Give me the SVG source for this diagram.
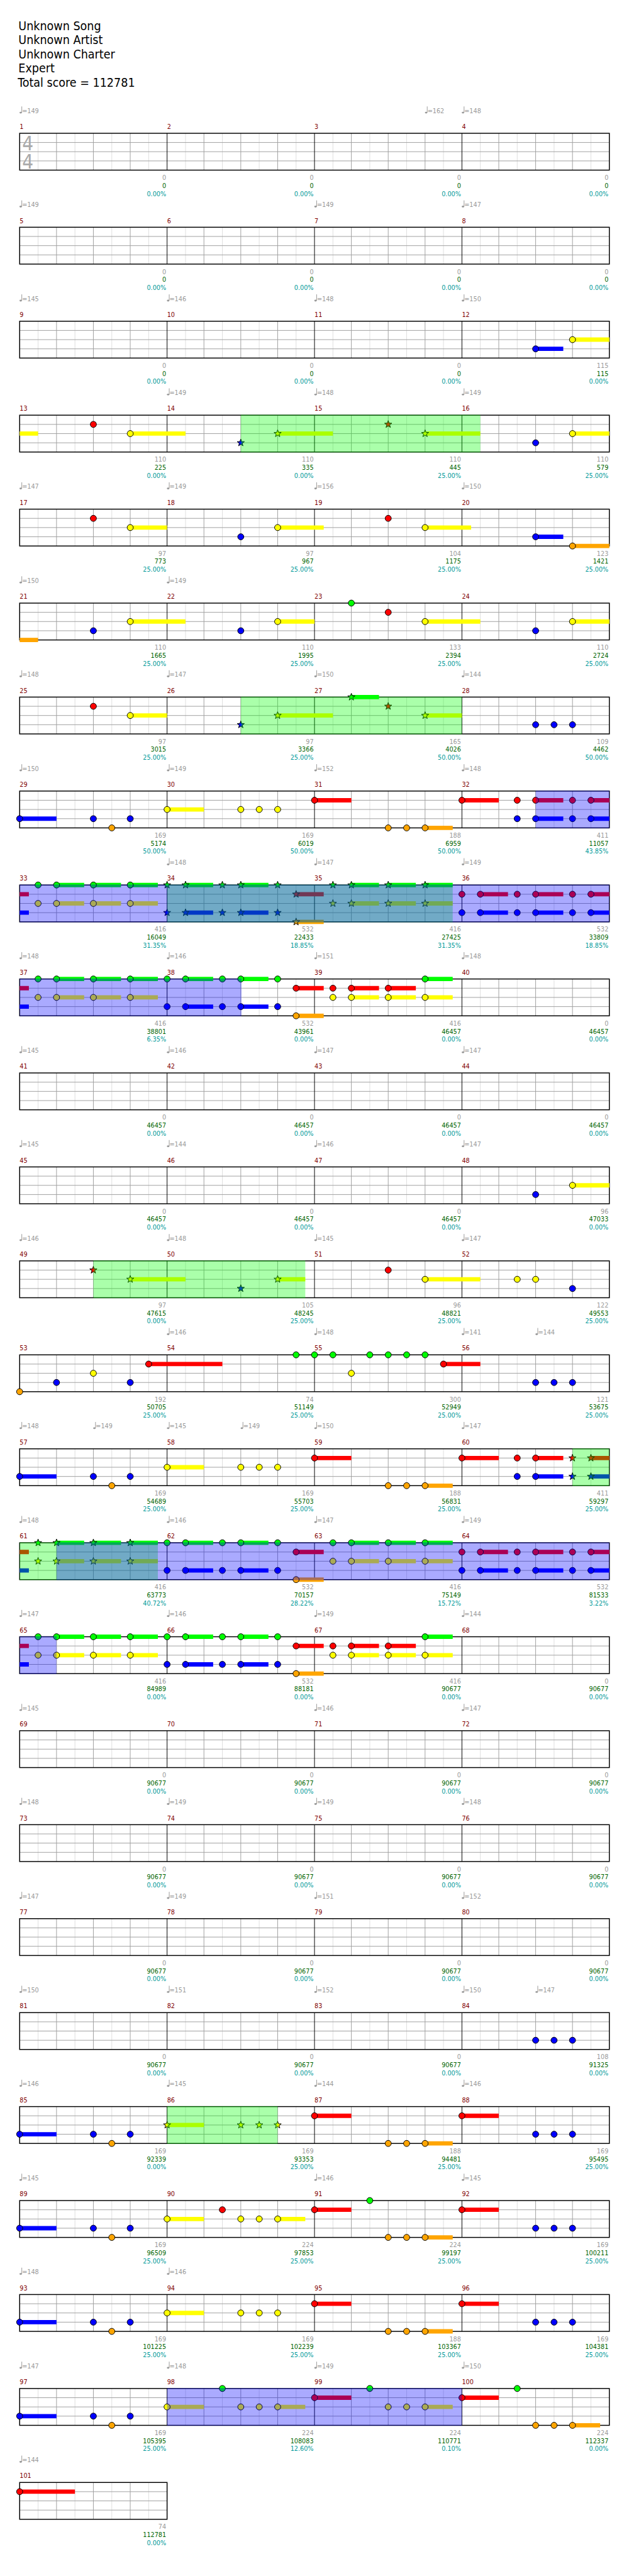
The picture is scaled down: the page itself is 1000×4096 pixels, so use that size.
<svg xmlns="http://www.w3.org/2000/svg" width="1000" height="4096" viewBox="0 0 1000 4096">
<style>
text{font-family:"DejaVu Sans Condensed","DejaVu Sans",sans-serif;font-stretch:condensed;font-size:11px}
.ti{font-size:20px;fill:#000}
.f{font-size:32px;fill:#aaa}
.mn{fill:#800000}
.tp{fill:#999}
.n1{fill:#999;text-anchor:end}
.n2{fill:#006400;text-anchor:end}
.n3{fill:#009999;text-anchor:end}
.sr,.sy,.sb,.sg,.so{fill:none;stroke-width:7}
.sr{stroke:#f00}.sy{stroke:#ff0}.sb{stroke:#00f}.sg{stroke:#0f0}.so{stroke:#ffa500}
circle,use.k{stroke:#000;stroke-width:1}
.r{fill:#f00}.y{fill:#ff0}.b{fill:#00f}.g{fill:#0f0}.o{fill:#ffa500}
.ps{fill:#0f0;fill-opacity:.333}
.pb{fill:#00f;fill-opacity:.333}
</style>
<defs>
<path id="st" d="M0-6.2L1.47-2.02 5.9-1.92 2.38.77 3.64 5.02 0 2.5-3.64 5.02-2.38.77-5.9-1.92-1.47-2.02Z"/>
<g id="q"><ellipse cx="1.7" cy="-0.6" rx="2" ry="1.5" fill="#999"/><path d="M3.5-.8V-10.7" stroke="#999" stroke-width="1" fill="none"/></g>
<g id="grid">
<path stroke="#dedede" stroke-width="1" d="M62 0V60M122 0V60M182 0V60M242 0V60M302 0V60M362 0V60M422 0V60M482 0V60M542 0V60M602 0V60M662 0V60M722 0V60M782 0V60M842 0V60M902 0V60M962 0V60"/>
<path stroke="#a0a0a0" stroke-width="1" d="M92 0V60M152 0V60M212 0V60M332 0V60M392 0V60M452 0V60M572 0V60M632 0V60M692 0V60M812 0V60M872 0V60M932 0V60M32 15H992M32 30H992M32 45H992"/>
<path stroke="#000" stroke-width="1" d="M272 0V60M512 0V60M752 0V60"/>
<rect x="32" y="0" width="960" height="60" fill="none" stroke="#000" stroke-width="1.5"/>
</g>
<g id="grid1">
<path stroke="#dedede" stroke-width="1" d="M62 0V60M122 0V60M182 0V60M242 0V60"/>
<path stroke="#a0a0a0" stroke-width="1" d="M92 0V60M152 0V60M212 0V60M32 15H272M32 30H272M32 45H272"/>
<rect x="32" y="0" width="240" height="60" fill="none" stroke="#000" stroke-width="1.5"/>
</g>
</defs>
<g transform="scale(0.9765625)">
<g id="title">
<text class="ti" x="30" y="49">Unknown Song</text>
<text class="ti" x="30" y="72">Unknown Artist</text>
<text class="ti" x="30" y="95">Unknown Charter</text>
<text class="ti" x="30" y="118">Expert</text>
<text class="ti" x="29" y="141">Total score = 112781</text>
</g>

<g id="row1" transform="translate(0,217)">
<use href="#grid"/>
<text class="f" x="36" y="28">4</text><text class="f" x="36" y="57">4</text>
<text class="mn"><tspan x="32" y="-7">1</tspan><tspan x="272" y="-7">2</tspan><tspan x="512" y="-7">3</tspan><tspan x="752" y="-7">4</tspan></text>
<use href="#q" x="32" y="-33"/><text class="tp" x="36" y="-33">=149</text>
<use href="#q" x="692" y="-33"/><text class="tp" x="696" y="-33">=162</text>
<use href="#q" x="752" y="-33"/><text class="tp" x="756" y="-33">=148</text>
<text class="n1"><tspan x="270.5" y="76">0</tspan><tspan x="510.5" y="76">0</tspan><tspan x="750.5" y="76">0</tspan><tspan x="990.5" y="76">0</tspan></text>
<text class="n2"><tspan x="270.5" y="89">0</tspan><tspan x="510.5" y="89">0</tspan><tspan x="750.5" y="89">0</tspan><tspan x="990.5" y="89">0</tspan></text>
<text class="n3"><tspan x="270.5" y="102">0.00%</tspan><tspan x="510.5" y="102">0.00%</tspan><tspan x="750.5" y="102">0.00%</tspan><tspan x="990.5" y="102">0.00%</tspan></text>
</g>

<g id="row2" transform="translate(0,370)">
<use href="#grid"/>
<text class="mn"><tspan x="32" y="-7">5</tspan><tspan x="272" y="-7">6</tspan><tspan x="512" y="-7">7</tspan><tspan x="752" y="-7">8</tspan></text>
<use href="#q" x="32" y="-33"/><text class="tp" x="36" y="-33">=149</text>
<use href="#q" x="512" y="-33"/><text class="tp" x="516" y="-33">=149</text>
<use href="#q" x="752" y="-33"/><text class="tp" x="756" y="-33">=147</text>
<text class="n1"><tspan x="270.5" y="76">0</tspan><tspan x="510.5" y="76">0</tspan><tspan x="750.5" y="76">0</tspan><tspan x="990.5" y="76">0</tspan></text>
<text class="n2"><tspan x="270.5" y="89">0</tspan><tspan x="510.5" y="89">0</tspan><tspan x="750.5" y="89">0</tspan><tspan x="990.5" y="89">0</tspan></text>
<text class="n3"><tspan x="270.5" y="102">0.00%</tspan><tspan x="510.5" y="102">0.00%</tspan><tspan x="750.5" y="102">0.00%</tspan><tspan x="990.5" y="102">0.00%</tspan></text>
</g>

<g id="row3" transform="translate(0,523)">
<use href="#grid"/>
<text class="mn"><tspan x="32" y="-7">9</tspan><tspan x="272" y="-7">10</tspan><tspan x="512" y="-7">11</tspan><tspan x="752" y="-7">12</tspan></text>
<use href="#q" x="32" y="-33"/><text class="tp" x="36" y="-33">=145</text>
<use href="#q" x="272" y="-33"/><text class="tp" x="276" y="-33">=146</text>
<use href="#q" x="512" y="-33"/><text class="tp" x="516" y="-33">=148</text>
<use href="#q" x="752" y="-33"/><text class="tp" x="756" y="-33">=150</text>
<path class="sb" d="M872 45H917"/><path class="sy" d="M932 30H992"/>
<circle class="b" cx="872" cy="45" r="5"/><circle class="y" cx="932" cy="30" r="5"/>
<text class="n1"><tspan x="270.5" y="76">0</tspan><tspan x="510.5" y="76">0</tspan><tspan x="750.5" y="76">0</tspan><tspan x="990.5" y="76">115</tspan></text>
<text class="n2"><tspan x="270.5" y="89">0</tspan><tspan x="510.5" y="89">0</tspan><tspan x="750.5" y="89">0</tspan><tspan x="990.5" y="89">115</tspan></text>
<text class="n3"><tspan x="270.5" y="102">0.00%</tspan><tspan x="510.5" y="102">0.00%</tspan><tspan x="750.5" y="102">0.00%</tspan><tspan x="990.5" y="102">0.00%</tspan></text>
</g>

<g id="row4" transform="translate(0,676)">
<use href="#grid"/>
<text class="mn"><tspan x="32" y="-7">13</tspan><tspan x="272" y="-7">14</tspan><tspan x="512" y="-7">15</tspan><tspan x="752" y="-7">16</tspan></text>
<use href="#q" x="272" y="-33"/><text class="tp" x="276" y="-33">=149</text>
<use href="#q" x="512" y="-33"/><text class="tp" x="516" y="-33">=148</text>
<use href="#q" x="752" y="-33"/><text class="tp" x="756" y="-33">=149</text>
<path class="sy" d="M32 30H62M212 30H302M452 30H542M692 30H782M932 30H992"/>
<circle class="r" cx="152" cy="15" r="5"/><circle class="y" cx="212" cy="30" r="5"/>
<use class="k b" href="#st" x="392" y="45"/><use class="k y" href="#st" x="452" y="30"/><use class="k r" href="#st" x="632" y="15"/><use class="k y" href="#st" x="692" y="30"/>
<circle class="b" cx="872" cy="45" r="5"/><circle class="y" cx="932" cy="30" r="5"/>
<rect class="ps" x="392" y="-.75" width="390" height="61.5"/>
<text class="n1"><tspan x="270.5" y="76">110</tspan><tspan x="510.5" y="76">110</tspan><tspan x="750.5" y="76">110</tspan><tspan x="990.5" y="76">110</tspan></text>
<text class="n2"><tspan x="270.5" y="89">225</tspan><tspan x="510.5" y="89">335</tspan><tspan x="750.5" y="89">445</tspan><tspan x="990.5" y="89">579</tspan></text>
<text class="n3"><tspan x="270.5" y="102">0.00%</tspan><tspan x="510.5" y="102">0.00%</tspan><tspan x="750.5" y="102">25.00%</tspan><tspan x="990.5" y="102">25.00%</tspan></text>
</g>

<g id="row5" transform="translate(0,829)">
<use href="#grid"/>
<text class="mn"><tspan x="32" y="-7">17</tspan><tspan x="272" y="-7">18</tspan><tspan x="512" y="-7">19</tspan><tspan x="752" y="-7">20</tspan></text>
<use href="#q" x="32" y="-33"/><text class="tp" x="36" y="-33">=147</text>
<use href="#q" x="272" y="-33"/><text class="tp" x="276" y="-33">=149</text>
<use href="#q" x="512" y="-33"/><text class="tp" x="516" y="-33">=156</text>
<use href="#q" x="752" y="-33"/><text class="tp" x="756" y="-33">=150</text>
<path class="sy" d="M212 30H272M452 30H527M692 30H767"/><path class="sb" d="M872 45H917"/><path class="so" d="M932 60H992"/>
<circle class="r" cx="152" cy="15" r="5"/><circle class="y" cx="212" cy="30" r="5"/><circle class="b" cx="392" cy="45" r="5"/><circle class="y" cx="452" cy="30" r="5"/><circle class="r" cx="632" cy="15" r="5"/><circle class="y" cx="692" cy="30" r="5"/><circle class="b" cx="872" cy="45" r="5"/><circle class="o" cx="932" cy="60" r="5"/>
<text class="n1"><tspan x="270.5" y="76">97</tspan><tspan x="510.5" y="76">97</tspan><tspan x="750.5" y="76">104</tspan><tspan x="990.5" y="76">123</tspan></text>
<text class="n2"><tspan x="270.5" y="89">773</tspan><tspan x="510.5" y="89">967</tspan><tspan x="750.5" y="89">1175</tspan><tspan x="990.5" y="89">1421</tspan></text>
<text class="n3"><tspan x="270.5" y="102">25.00%</tspan><tspan x="510.5" y="102">25.00%</tspan><tspan x="750.5" y="102">25.00%</tspan><tspan x="990.5" y="102">25.00%</tspan></text>
</g>

<g id="row6" transform="translate(0,982)">
<use href="#grid"/>
<text class="mn"><tspan x="32" y="-7">21</tspan><tspan x="272" y="-7">22</tspan><tspan x="512" y="-7">23</tspan><tspan x="752" y="-7">24</tspan></text>
<use href="#q" x="32" y="-33"/><text class="tp" x="36" y="-33">=150</text>
<use href="#q" x="272" y="-33"/><text class="tp" x="276" y="-33">=149</text>
<path class="so" d="M32 60H62"/><path class="sy" d="M212 30H302M452 30H512M692 30H782M932 30H992"/>
<circle class="b" cx="152" cy="45" r="5"/><circle class="y" cx="212" cy="30" r="5"/><circle class="b" cx="392" cy="45" r="5"/><circle class="y" cx="452" cy="30" r="5"/><circle class="g" cx="572" cy="0" r="5"/><circle class="r" cx="632" cy="15" r="5"/><circle class="y" cx="692" cy="30" r="5"/><circle class="b" cx="872" cy="45" r="5"/><circle class="y" cx="932" cy="30" r="5"/>
<text class="n1"><tspan x="270.5" y="76">110</tspan><tspan x="510.5" y="76">110</tspan><tspan x="750.5" y="76">133</tspan><tspan x="990.5" y="76">110</tspan></text>
<text class="n2"><tspan x="270.5" y="89">1665</tspan><tspan x="510.5" y="89">1995</tspan><tspan x="750.5" y="89">2394</tspan><tspan x="990.5" y="89">2724</tspan></text>
<text class="n3"><tspan x="270.5" y="102">25.00%</tspan><tspan x="510.5" y="102">25.00%</tspan><tspan x="750.5" y="102">25.00%</tspan><tspan x="990.5" y="102">25.00%</tspan></text>
</g>

<g id="row7" transform="translate(0,1135)">
<use href="#grid"/>
<text class="mn"><tspan x="32" y="-7">25</tspan><tspan x="272" y="-7">26</tspan><tspan x="512" y="-7">27</tspan><tspan x="752" y="-7">28</tspan></text>
<use href="#q" x="32" y="-33"/><text class="tp" x="36" y="-33">=148</text>
<use href="#q" x="272" y="-33"/><text class="tp" x="276" y="-33">=147</text>
<use href="#q" x="512" y="-33"/><text class="tp" x="516" y="-33">=150</text>
<use href="#q" x="752" y="-33"/><text class="tp" x="756" y="-33">=144</text>
<path class="sy" d="M212 30H272M452 30H542M692 30H752"/><path class="sg" d="M572 0H617"/>
<circle class="r" cx="152" cy="15" r="5"/><circle class="y" cx="212" cy="30" r="5"/>
<use class="k b" href="#st" x="392" y="45"/><use class="k y" href="#st" x="452" y="30"/><use class="k g" href="#st" x="572" y="0"/><use class="k r" href="#st" x="632" y="15"/><use class="k y" href="#st" x="692" y="30"/>
<circle class="b" cx="872" cy="45" r="5"/><circle class="b" cx="902" cy="45" r="5"/><circle class="b" cx="932" cy="45" r="5"/>
<rect class="ps" x="392" y="-.75" width="360" height="61.5"/>
<text class="n1"><tspan x="270.5" y="76">97</tspan><tspan x="510.5" y="76">97</tspan><tspan x="750.5" y="76">165</tspan><tspan x="990.5" y="76">109</tspan></text>
<text class="n2"><tspan x="270.5" y="89">3015</tspan><tspan x="510.5" y="89">3366</tspan><tspan x="750.5" y="89">4026</tspan><tspan x="990.5" y="89">4462</tspan></text>
<text class="n3"><tspan x="270.5" y="102">25.00%</tspan><tspan x="510.5" y="102">25.00%</tspan><tspan x="750.5" y="102">50.00%</tspan><tspan x="990.5" y="102">50.00%</tspan></text>
</g>

<g id="row8" transform="translate(0,1288)">
<use href="#grid"/>
<text class="mn"><tspan x="32" y="-7">29</tspan><tspan x="272" y="-7">30</tspan><tspan x="512" y="-7">31</tspan><tspan x="752" y="-7">32</tspan></text>
<use href="#q" x="32" y="-33"/><text class="tp" x="36" y="-33">=150</text>
<use href="#q" x="272" y="-33"/><text class="tp" x="276" y="-33">=149</text>
<use href="#q" x="512" y="-33"/><text class="tp" x="516" y="-33">=152</text>
<use href="#q" x="752" y="-33"/><text class="tp" x="756" y="-33">=148</text>
<path class="sb" d="M32 45H92M872 45H917M962 45H992"/><path class="sy" d="M272 30H332"/><path class="sr" d="M512 15H572M752 15H812M872 15H917M962 15H992"/><path class="so" d="M692 60H737"/>
<circle class="b" cx="32" cy="45" r="5"/><circle class="b" cx="152" cy="45" r="5"/><circle class="o" cx="182" cy="60" r="5"/><circle class="b" cx="212" cy="45" r="5"/><circle class="y" cx="272" cy="30" r="5"/><circle class="y" cx="392" cy="30" r="5"/><circle class="y" cx="422" cy="30" r="5"/><circle class="y" cx="452" cy="30" r="5"/><circle class="r" cx="512" cy="15" r="5"/><circle class="o" cx="632" cy="60" r="5"/><circle class="o" cx="662" cy="60" r="5"/><circle class="o" cx="692" cy="60" r="5"/><circle class="r" cx="752" cy="15" r="5"/><circle class="r" cx="842" cy="15" r="5"/><circle class="b" cx="842" cy="45" r="5"/><circle class="r" cx="872" cy="15" r="5"/><circle class="b" cx="872" cy="45" r="5"/><circle class="r" cx="932" cy="15" r="5"/><circle class="b" cx="932" cy="45" r="5"/><circle class="r" cx="962" cy="15" r="5"/><circle class="b" cx="962" cy="45" r="5"/>
<rect class="pb" x="872" y="-.75" width="120" height="61.5"/>
<text class="n1"><tspan x="270.5" y="76">169</tspan><tspan x="510.5" y="76">169</tspan><tspan x="750.5" y="76">188</tspan><tspan x="990.5" y="76">411</tspan></text>
<text class="n2"><tspan x="270.5" y="89">5174</tspan><tspan x="510.5" y="89">6019</tspan><tspan x="750.5" y="89">6959</tspan><tspan x="990.5" y="89">11057</tspan></text>
<text class="n3"><tspan x="270.5" y="102">50.00%</tspan><tspan x="510.5" y="102">50.00%</tspan><tspan x="750.5" y="102">50.00%</tspan><tspan x="990.5" y="102">43.85%</tspan></text>
</g>

<g id="row9" transform="translate(0,1441)">
<use href="#grid"/>
<text class="mn"><tspan x="32" y="-7">33</tspan><tspan x="272" y="-7">34</tspan><tspan x="512" y="-7">35</tspan><tspan x="752" y="-7">36</tspan></text>
<use href="#q" x="272" y="-33"/><text class="tp" x="276" y="-33">=148</text>
<use href="#q" x="512" y="-33"/><text class="tp" x="516" y="-33">=147</text>
<use href="#q" x="752" y="-33"/><text class="tp" x="756" y="-33">=149</text>
<path class="sr" d="M32 15H47M482 15H527M782 15H827M872 15H917M962 15H992"/>
<path class="sb" d="M32 45H47M302 45H347M392 45H437M782 45H827M872 45H917M962 45H992"/>
<path class="sg" d="M92 0H137M152 0H197M212 0H257M302 0H347M392 0H437M572 0H617M632 0H677M692 0H737"/>
<path class="sy" d="M92 30H137M152 30H197M212 30H257M572 30H617M632 30H677M692 30H737"/>
<path class="so" d="M482 60H527"/>
<circle class="g" cx="62" cy="0" r="5"/><circle class="y" cx="62" cy="30" r="5"/><circle class="g" cx="92" cy="0" r="5"/><circle class="y" cx="92" cy="30" r="5"/><circle class="g" cx="152" cy="0" r="5"/><circle class="y" cx="152" cy="30" r="5"/><circle class="g" cx="212" cy="0" r="5"/><circle class="y" cx="212" cy="30" r="5"/>
<use class="k g" href="#st" x="272" y="0"/><use class="k b" href="#st" x="272" y="45"/><use class="k g" href="#st" x="302" y="0"/><use class="k b" href="#st" x="302" y="45"/><use class="k g" href="#st" x="362" y="0"/><use class="k b" href="#st" x="362" y="45"/><use class="k g" href="#st" x="392" y="0"/><use class="k b" href="#st" x="392" y="45"/><use class="k g" href="#st" x="452" y="0"/><use class="k b" href="#st" x="452" y="45"/>
<use class="k r" href="#st" x="482" y="15"/><use class="k o" href="#st" x="482" y="60"/>
<use class="k g" href="#st" x="542" y="0"/><use class="k y" href="#st" x="542" y="30"/><use class="k g" href="#st" x="572" y="0"/><use class="k y" href="#st" x="572" y="30"/><use class="k g" href="#st" x="632" y="0"/><use class="k y" href="#st" x="632" y="30"/><use class="k g" href="#st" x="692" y="0"/><use class="k y" href="#st" x="692" y="30"/>
<circle class="r" cx="752" cy="15" r="5"/><circle class="b" cx="752" cy="45" r="5"/><circle class="r" cx="782" cy="15" r="5"/><circle class="b" cx="782" cy="45" r="5"/><circle class="r" cx="842" cy="15" r="5"/><circle class="b" cx="842" cy="45" r="5"/><circle class="r" cx="872" cy="15" r="5"/><circle class="b" cx="872" cy="45" r="5"/><circle class="r" cx="932" cy="15" r="5"/><circle class="b" cx="932" cy="45" r="5"/><circle class="r" cx="962" cy="15" r="5"/><circle class="b" cx="962" cy="45" r="5"/>
<rect class="ps" x="272" y="-.75" width="465" height="61.5"/>
<rect class="pb" x="32" y="-.75" width="960" height="61.5"/>
<text class="n1"><tspan x="270.5" y="76">416</tspan><tspan x="510.5" y="76">532</tspan><tspan x="750.5" y="76">416</tspan><tspan x="990.5" y="76">532</tspan></text>
<text class="n2"><tspan x="270.5" y="89">16049</tspan><tspan x="510.5" y="89">22433</tspan><tspan x="750.5" y="89">27425</tspan><tspan x="990.5" y="89">33809</tspan></text>
<text class="n3"><tspan x="270.5" y="102">31.35%</tspan><tspan x="510.5" y="102">18.85%</tspan><tspan x="750.5" y="102">31.35%</tspan><tspan x="990.5" y="102">18.85%</tspan></text>
</g>

<g id="row10" transform="translate(0,1594)">
<use href="#grid"/>
<text class="mn"><tspan x="32" y="-7">37</tspan><tspan x="272" y="-7">38</tspan><tspan x="512" y="-7">39</tspan><tspan x="752" y="-7">40</tspan></text>
<use href="#q" x="32" y="-33"/><text class="tp" x="36" y="-33">=148</text>
<use href="#q" x="272" y="-33"/><text class="tp" x="276" y="-33">=146</text>
<use href="#q" x="512" y="-33"/><text class="tp" x="516" y="-33">=151</text>
<use href="#q" x="752" y="-33"/><text class="tp" x="756" y="-33">=148</text>
<path class="sr" d="M32 15H47M482 15H527M572 15H617M632 15H677"/>
<path class="sb" d="M32 45H47M302 45H347M392 45H437"/>
<path class="sg" d="M92 0H137M152 0H197M212 0H257M302 0H347M392 0H437M692 0H737"/>
<path class="sy" d="M92 30H137M152 30H197M212 30H257M572 30H617M632 30H677M692 30H737"/>
<path class="so" d="M482 60H527"/>
<circle class="g" cx="62" cy="0" r="5"/><circle class="y" cx="62" cy="30" r="5"/><circle class="g" cx="92" cy="0" r="5"/><circle class="y" cx="92" cy="30" r="5"/><circle class="g" cx="152" cy="0" r="5"/><circle class="y" cx="152" cy="30" r="5"/><circle class="g" cx="212" cy="0" r="5"/><circle class="y" cx="212" cy="30" r="5"/>
<circle class="g" cx="272" cy="0" r="5"/><circle class="b" cx="272" cy="45" r="5"/><circle class="g" cx="302" cy="0" r="5"/><circle class="b" cx="302" cy="45" r="5"/><circle class="g" cx="362" cy="0" r="5"/><circle class="b" cx="362" cy="45" r="5"/><circle class="g" cx="392" cy="0" r="5"/><circle class="b" cx="392" cy="45" r="5"/><circle class="g" cx="452" cy="0" r="5"/><circle class="b" cx="452" cy="45" r="5"/>
<circle class="r" cx="482" cy="15" r="5"/><circle class="o" cx="482" cy="60" r="5"/>
<circle class="r" cx="542" cy="15" r="5"/><circle class="y" cx="542" cy="30" r="5"/><circle class="r" cx="572" cy="15" r="5"/><circle class="y" cx="572" cy="30" r="5"/><circle class="r" cx="632" cy="15" r="5"/><circle class="y" cx="632" cy="30" r="5"/><circle class="g" cx="692" cy="0" r="5"/><circle class="y" cx="692" cy="30" r="5"/>
<rect class="pb" x="32" y="-.75" width="361" height="61.5"/>
<text class="n1"><tspan x="270.5" y="76">416</tspan><tspan x="510.5" y="76">532</tspan><tspan x="750.5" y="76">416</tspan><tspan x="990.5" y="76">0</tspan></text>
<text class="n2"><tspan x="270.5" y="89">38801</tspan><tspan x="510.5" y="89">43961</tspan><tspan x="750.5" y="89">46457</tspan><tspan x="990.5" y="89">46457</tspan></text>
<text class="n3"><tspan x="270.5" y="102">6.35%</tspan><tspan x="510.5" y="102">0.00%</tspan><tspan x="750.5" y="102">0.00%</tspan><tspan x="990.5" y="102">0.00%</tspan></text>
</g>

<g id="row11" transform="translate(0,1747)">
<use href="#grid"/>
<text class="mn"><tspan x="32" y="-7">41</tspan><tspan x="272" y="-7">42</tspan><tspan x="512" y="-7">43</tspan><tspan x="752" y="-7">44</tspan></text>
<use href="#q" x="32" y="-33"/><text class="tp" x="36" y="-33">=145</text>
<use href="#q" x="272" y="-33"/><text class="tp" x="276" y="-33">=146</text>
<use href="#q" x="512" y="-33"/><text class="tp" x="516" y="-33">=147</text>
<use href="#q" x="752" y="-33"/><text class="tp" x="756" y="-33">=147</text>
<text class="n1"><tspan x="270.5" y="76">0</tspan><tspan x="510.5" y="76">0</tspan><tspan x="750.5" y="76">0</tspan><tspan x="990.5" y="76">0</tspan></text>
<text class="n2"><tspan x="270.5" y="89">46457</tspan><tspan x="510.5" y="89">46457</tspan><tspan x="750.5" y="89">46457</tspan><tspan x="990.5" y="89">46457</tspan></text>
<text class="n3"><tspan x="270.5" y="102">0.00%</tspan><tspan x="510.5" y="102">0.00%</tspan><tspan x="750.5" y="102">0.00%</tspan><tspan x="990.5" y="102">0.00%</tspan></text>
</g>

<g id="row12" transform="translate(0,1900)">
<use href="#grid"/>
<text class="mn"><tspan x="32" y="-7">45</tspan><tspan x="272" y="-7">46</tspan><tspan x="512" y="-7">47</tspan><tspan x="752" y="-7">48</tspan></text>
<use href="#q" x="32" y="-33"/><text class="tp" x="36" y="-33">=145</text>
<use href="#q" x="272" y="-33"/><text class="tp" x="276" y="-33">=144</text>
<use href="#q" x="512" y="-33"/><text class="tp" x="516" y="-33">=146</text>
<use href="#q" x="752" y="-33"/><text class="tp" x="756" y="-33">=147</text>
<path class="sy" d="M932 30H992"/>
<circle class="b" cx="872" cy="45" r="5"/><circle class="y" cx="932" cy="30" r="5"/>
<text class="n1"><tspan x="270.5" y="76">0</tspan><tspan x="510.5" y="76">0</tspan><tspan x="750.5" y="76">0</tspan><tspan x="990.5" y="76">96</tspan></text>
<text class="n2"><tspan x="270.5" y="89">46457</tspan><tspan x="510.5" y="89">46457</tspan><tspan x="750.5" y="89">46457</tspan><tspan x="990.5" y="89">47033</tspan></text>
<text class="n3"><tspan x="270.5" y="102">0.00%</tspan><tspan x="510.5" y="102">0.00%</tspan><tspan x="750.5" y="102">0.00%</tspan><tspan x="990.5" y="102">0.00%</tspan></text>
</g>

<g id="row13" transform="translate(0,2053)">
<use href="#grid"/>
<text class="mn"><tspan x="32" y="-7">49</tspan><tspan x="272" y="-7">50</tspan><tspan x="512" y="-7">51</tspan><tspan x="752" y="-7">52</tspan></text>
<use href="#q" x="32" y="-33"/><text class="tp" x="36" y="-33">=146</text>
<use href="#q" x="272" y="-33"/><text class="tp" x="276" y="-33">=148</text>
<use href="#q" x="512" y="-33"/><text class="tp" x="516" y="-33">=145</text>
<use href="#q" x="752" y="-33"/><text class="tp" x="756" y="-33">=147</text>
<path class="sy" d="M212 30H302M452 30H497M692 30H782"/>
<use class="k r" href="#st" x="152" y="15"/><use class="k y" href="#st" x="212" y="30"/><use class="k b" href="#st" x="392" y="45"/><use class="k y" href="#st" x="452" y="30"/>
<circle class="r" cx="632" cy="15" r="5"/><circle class="y" cx="692" cy="30" r="5"/><circle class="y" cx="842" cy="30" r="5"/><circle class="y" cx="872" cy="30" r="5"/><circle class="b" cx="932" cy="45" r="5"/>
<rect class="ps" x="152" y="-.75" width="345" height="61.5"/>
<text class="n1"><tspan x="270.5" y="76">97</tspan><tspan x="510.5" y="76">105</tspan><tspan x="750.5" y="76">96</tspan><tspan x="990.5" y="76">122</tspan></text>
<text class="n2"><tspan x="270.5" y="89">47615</tspan><tspan x="510.5" y="89">48245</tspan><tspan x="750.5" y="89">48821</tspan><tspan x="990.5" y="89">49553</tspan></text>
<text class="n3"><tspan x="270.5" y="102">0.00%</tspan><tspan x="510.5" y="102">25.00%</tspan><tspan x="750.5" y="102">25.00%</tspan><tspan x="990.5" y="102">25.00%</tspan></text>
</g>

<g id="row14" transform="translate(0,2206)">
<use href="#grid"/>
<text class="mn"><tspan x="32" y="-7">53</tspan><tspan x="272" y="-7">54</tspan><tspan x="512" y="-7">55</tspan><tspan x="752" y="-7">56</tspan></text>
<use href="#q" x="272" y="-33"/><text class="tp" x="276" y="-33">=146</text>
<use href="#q" x="512" y="-33"/><text class="tp" x="516" y="-33">=148</text>
<use href="#q" x="752" y="-33"/><text class="tp" x="756" y="-33">=141</text>
<use href="#q" x="872" y="-33"/><text class="tp" x="876" y="-33">=144</text>
<path class="sr" d="M242 15H362M722 15H782"/>
<circle class="o" cx="32" cy="60" r="5"/><circle class="b" cx="92" cy="45" r="5"/><circle class="y" cx="152" cy="30" r="5"/><circle class="b" cx="212" cy="45" r="5"/><circle class="r" cx="242" cy="15" r="5"/><circle class="g" cx="482" cy="0" r="5"/><circle class="g" cx="512" cy="0" r="5"/><circle class="g" cx="542" cy="0" r="5"/><circle class="y" cx="572" cy="30" r="5"/><circle class="g" cx="602" cy="0" r="5"/><circle class="g" cx="632" cy="0" r="5"/><circle class="g" cx="662" cy="0" r="5"/><circle class="g" cx="692" cy="0" r="5"/><circle class="r" cx="722" cy="15" r="5"/><circle class="b" cx="872" cy="45" r="5"/><circle class="b" cx="902" cy="45" r="5"/><circle class="b" cx="932" cy="45" r="5"/>
<text class="n1"><tspan x="270.5" y="76">192</tspan><tspan x="510.5" y="76">74</tspan><tspan x="750.5" y="76">300</tspan><tspan x="990.5" y="76">121</tspan></text>
<text class="n2"><tspan x="270.5" y="89">50705</tspan><tspan x="510.5" y="89">51149</tspan><tspan x="750.5" y="89">52949</tspan><tspan x="990.5" y="89">53675</tspan></text>
<text class="n3"><tspan x="270.5" y="102">25.00%</tspan><tspan x="510.5" y="102">25.00%</tspan><tspan x="750.5" y="102">25.00%</tspan><tspan x="990.5" y="102">25.00%</tspan></text>
</g>

<g id="row15" transform="translate(0,2359)">
<use href="#grid"/>
<text class="mn"><tspan x="32" y="-7">57</tspan><tspan x="272" y="-7">58</tspan><tspan x="512" y="-7">59</tspan><tspan x="752" y="-7">60</tspan></text>
<use href="#q" x="32" y="-33"/><text class="tp" x="36" y="-33">=148</text>
<use href="#q" x="152" y="-33"/><text class="tp" x="156" y="-33">=149</text>
<use href="#q" x="272" y="-33"/><text class="tp" x="276" y="-33">=145</text>
<use href="#q" x="392" y="-33"/><text class="tp" x="396" y="-33">=149</text>
<use href="#q" x="512" y="-33"/><text class="tp" x="516" y="-33">=150</text>
<use href="#q" x="752" y="-33"/><text class="tp" x="756" y="-33">=147</text>
<path class="sb" d="M32 45H92M872 45H917M962 45H992"/><path class="sy" d="M272 30H332"/><path class="sr" d="M512 15H572M752 15H812M872 15H917M962 15H992"/><path class="so" d="M692 60H737"/>
<circle class="b" cx="32" cy="45" r="5"/><circle class="b" cx="152" cy="45" r="5"/><circle class="o" cx="182" cy="60" r="5"/><circle class="b" cx="212" cy="45" r="5"/><circle class="y" cx="272" cy="30" r="5"/><circle class="y" cx="392" cy="30" r="5"/><circle class="y" cx="422" cy="30" r="5"/><circle class="y" cx="452" cy="30" r="5"/><circle class="r" cx="512" cy="15" r="5"/><circle class="o" cx="632" cy="60" r="5"/><circle class="o" cx="662" cy="60" r="5"/><circle class="o" cx="692" cy="60" r="5"/><circle class="r" cx="752" cy="15" r="5"/><circle class="r" cx="842" cy="15" r="5"/><circle class="b" cx="842" cy="45" r="5"/><circle class="r" cx="872" cy="15" r="5"/><circle class="b" cx="872" cy="45" r="5"/>
<use class="k r" href="#st" x="932" y="15"/><use class="k b" href="#st" x="932" y="45"/><use class="k r" href="#st" x="962" y="15"/><use class="k b" href="#st" x="962" y="45"/>
<rect class="ps" x="932" y="-.75" width="60" height="61.5"/>
<text class="n1"><tspan x="270.5" y="76">169</tspan><tspan x="510.5" y="76">169</tspan><tspan x="750.5" y="76">188</tspan><tspan x="990.5" y="76">411</tspan></text>
<text class="n2"><tspan x="270.5" y="89">54689</tspan><tspan x="510.5" y="89">55703</tspan><tspan x="750.5" y="89">56831</tspan><tspan x="990.5" y="89">59297</tspan></text>
<text class="n3"><tspan x="270.5" y="102">25.00%</tspan><tspan x="510.5" y="102">25.00%</tspan><tspan x="750.5" y="102">25.00%</tspan><tspan x="990.5" y="102">25.00%</tspan></text>
</g>

<g id="row16" transform="translate(0,2512)">
<use href="#grid"/>
<text class="mn"><tspan x="32" y="-7">61</tspan><tspan x="272" y="-7">62</tspan><tspan x="512" y="-7">63</tspan><tspan x="752" y="-7">64</tspan></text>
<use href="#q" x="32" y="-33"/><text class="tp" x="36" y="-33">=148</text>
<use href="#q" x="272" y="-33"/><text class="tp" x="276" y="-33">=146</text>
<use href="#q" x="512" y="-33"/><text class="tp" x="516" y="-33">=147</text>
<use href="#q" x="752" y="-33"/><text class="tp" x="756" y="-33">=149</text>
<path class="sr" d="M32 15H47M482 15H527M782 15H827M872 15H917M962 15H992"/>
<path class="sb" d="M32 45H47M302 45H347M392 45H437M782 45H827M872 45H917M962 45H992"/>
<path class="sg" d="M92 0H137M152 0H197M212 0H257M302 0H347M392 0H437M572 0H617M632 0H677M692 0H737"/>
<path class="sy" d="M92 30H137M152 30H197M212 30H257M572 30H617M632 30H677M692 30H737"/>
<path class="so" d="M482 60H527"/>
<use class="k g" href="#st" x="62" y="0"/><use class="k y" href="#st" x="62" y="30"/><use class="k g" href="#st" x="92" y="0"/><use class="k y" href="#st" x="92" y="30"/><use class="k g" href="#st" x="152" y="0"/><use class="k y" href="#st" x="152" y="30"/><use class="k g" href="#st" x="212" y="0"/><use class="k y" href="#st" x="212" y="30"/>
<circle class="g" cx="272" cy="0" r="5"/><circle class="b" cx="272" cy="45" r="5"/><circle class="g" cx="302" cy="0" r="5"/><circle class="b" cx="302" cy="45" r="5"/><circle class="g" cx="362" cy="0" r="5"/><circle class="b" cx="362" cy="45" r="5"/><circle class="g" cx="392" cy="0" r="5"/><circle class="b" cx="392" cy="45" r="5"/><circle class="g" cx="452" cy="0" r="5"/><circle class="b" cx="452" cy="45" r="5"/>
<circle class="r" cx="482" cy="15" r="5"/><circle class="o" cx="482" cy="60" r="5"/>
<circle class="g" cx="542" cy="0" r="5"/><circle class="y" cx="542" cy="30" r="5"/><circle class="g" cx="572" cy="0" r="5"/><circle class="y" cx="572" cy="30" r="5"/><circle class="g" cx="632" cy="0" r="5"/><circle class="y" cx="632" cy="30" r="5"/><circle class="g" cx="692" cy="0" r="5"/><circle class="y" cx="692" cy="30" r="5"/>
<circle class="r" cx="752" cy="15" r="5"/><circle class="b" cx="752" cy="45" r="5"/><circle class="r" cx="782" cy="15" r="5"/><circle class="b" cx="782" cy="45" r="5"/><circle class="r" cx="842" cy="15" r="5"/><circle class="b" cx="842" cy="45" r="5"/><circle class="r" cx="872" cy="15" r="5"/><circle class="b" cx="872" cy="45" r="5"/><circle class="r" cx="932" cy="15" r="5"/><circle class="b" cx="932" cy="45" r="5"/><circle class="r" cx="962" cy="15" r="5"/><circle class="b" cx="962" cy="45" r="5"/>
<rect class="ps" x="32" y="-.75" width="225" height="61.5"/>
<rect class="pb" x="92" y="-.75" width="900" height="61.5"/>
<text class="n1"><tspan x="270.5" y="76">416</tspan><tspan x="510.5" y="76">532</tspan><tspan x="750.5" y="76">416</tspan><tspan x="990.5" y="76">532</tspan></text>
<text class="n2"><tspan x="270.5" y="89">63773</tspan><tspan x="510.5" y="89">70157</tspan><tspan x="750.5" y="89">75149</tspan><tspan x="990.5" y="89">81533</tspan></text>
<text class="n3"><tspan x="270.5" y="102">40.72%</tspan><tspan x="510.5" y="102">28.22%</tspan><tspan x="750.5" y="102">15.72%</tspan><tspan x="990.5" y="102">3.22%</tspan></text>
</g>

<g id="row17" transform="translate(0,2665)">
<use href="#grid"/>
<text class="mn"><tspan x="32" y="-7">65</tspan><tspan x="272" y="-7">66</tspan><tspan x="512" y="-7">67</tspan><tspan x="752" y="-7">68</tspan></text>
<use href="#q" x="32" y="-33"/><text class="tp" x="36" y="-33">=147</text>
<use href="#q" x="272" y="-33"/><text class="tp" x="276" y="-33">=146</text>
<use href="#q" x="512" y="-33"/><text class="tp" x="516" y="-33">=149</text>
<use href="#q" x="752" y="-33"/><text class="tp" x="756" y="-33">=144</text>
<path class="sr" d="M32 15H47M482 15H527M572 15H617M632 15H677"/>
<path class="sb" d="M32 45H47M302 45H347M392 45H437"/>
<path class="sg" d="M92 0H137M152 0H197M212 0H257M302 0H347M392 0H437M692 0H737"/>
<path class="sy" d="M92 30H137M152 30H197M212 30H257M572 30H617M632 30H677M692 30H737"/>
<path class="so" d="M482 60H527"/>
<circle class="g" cx="62" cy="0" r="5"/><circle class="y" cx="62" cy="30" r="5"/><circle class="g" cx="92" cy="0" r="5"/><circle class="y" cx="92" cy="30" r="5"/><circle class="g" cx="152" cy="0" r="5"/><circle class="y" cx="152" cy="30" r="5"/><circle class="g" cx="212" cy="0" r="5"/><circle class="y" cx="212" cy="30" r="5"/>
<circle class="g" cx="272" cy="0" r="5"/><circle class="b" cx="272" cy="45" r="5"/><circle class="g" cx="302" cy="0" r="5"/><circle class="b" cx="302" cy="45" r="5"/><circle class="g" cx="362" cy="0" r="5"/><circle class="b" cx="362" cy="45" r="5"/><circle class="g" cx="392" cy="0" r="5"/><circle class="b" cx="392" cy="45" r="5"/><circle class="g" cx="452" cy="0" r="5"/><circle class="b" cx="452" cy="45" r="5"/>
<circle class="r" cx="482" cy="15" r="5"/><circle class="o" cx="482" cy="60" r="5"/>
<circle class="r" cx="542" cy="15" r="5"/><circle class="y" cx="542" cy="30" r="5"/><circle class="r" cx="572" cy="15" r="5"/><circle class="y" cx="572" cy="30" r="5"/><circle class="r" cx="632" cy="15" r="5"/><circle class="y" cx="632" cy="30" r="5"/><circle class="g" cx="692" cy="0" r="5"/><circle class="y" cx="692" cy="30" r="5"/>
<rect class="pb" x="32" y="-.75" width="60" height="61.5"/>
<text class="n1"><tspan x="270.5" y="76">416</tspan><tspan x="510.5" y="76">532</tspan><tspan x="750.5" y="76">416</tspan><tspan x="990.5" y="76">0</tspan></text>
<text class="n2"><tspan x="270.5" y="89">84989</tspan><tspan x="510.5" y="89">88181</tspan><tspan x="750.5" y="89">90677</tspan><tspan x="990.5" y="89">90677</tspan></text>
<text class="n3"><tspan x="270.5" y="102">0.00%</tspan><tspan x="510.5" y="102">0.00%</tspan><tspan x="750.5" y="102">0.00%</tspan><tspan x="990.5" y="102">0.00%</tspan></text>
</g>

<g id="row18" transform="translate(0,2818)">
<use href="#grid"/>
<text class="mn"><tspan x="32" y="-7">69</tspan><tspan x="272" y="-7">70</tspan><tspan x="512" y="-7">71</tspan><tspan x="752" y="-7">72</tspan></text>
<use href="#q" x="32" y="-33"/><text class="tp" x="36" y="-33">=145</text>
<use href="#q" x="512" y="-33"/><text class="tp" x="516" y="-33">=146</text>
<use href="#q" x="752" y="-33"/><text class="tp" x="756" y="-33">=147</text>
<text class="n1"><tspan x="270.5" y="76">0</tspan><tspan x="510.5" y="76">0</tspan><tspan x="750.5" y="76">0</tspan><tspan x="990.5" y="76">0</tspan></text>
<text class="n2"><tspan x="270.5" y="89">90677</tspan><tspan x="510.5" y="89">90677</tspan><tspan x="750.5" y="89">90677</tspan><tspan x="990.5" y="89">90677</tspan></text>
<text class="n3"><tspan x="270.5" y="102">0.00%</tspan><tspan x="510.5" y="102">0.00%</tspan><tspan x="750.5" y="102">0.00%</tspan><tspan x="990.5" y="102">0.00%</tspan></text>
</g>

<g id="row19" transform="translate(0,2971)">
<use href="#grid"/>
<text class="mn"><tspan x="32" y="-7">73</tspan><tspan x="272" y="-7">74</tspan><tspan x="512" y="-7">75</tspan><tspan x="752" y="-7">76</tspan></text>
<use href="#q" x="32" y="-33"/><text class="tp" x="36" y="-33">=148</text>
<use href="#q" x="272" y="-33"/><text class="tp" x="276" y="-33">=149</text>
<use href="#q" x="512" y="-33"/><text class="tp" x="516" y="-33">=149</text>
<use href="#q" x="752" y="-33"/><text class="tp" x="756" y="-33">=148</text>
<text class="n1"><tspan x="270.5" y="76">0</tspan><tspan x="510.5" y="76">0</tspan><tspan x="750.5" y="76">0</tspan><tspan x="990.5" y="76">0</tspan></text>
<text class="n2"><tspan x="270.5" y="89">90677</tspan><tspan x="510.5" y="89">90677</tspan><tspan x="750.5" y="89">90677</tspan><tspan x="990.5" y="89">90677</tspan></text>
<text class="n3"><tspan x="270.5" y="102">0.00%</tspan><tspan x="510.5" y="102">0.00%</tspan><tspan x="750.5" y="102">0.00%</tspan><tspan x="990.5" y="102">0.00%</tspan></text>
</g>

<g id="row20" transform="translate(0,3124)">
<use href="#grid"/>
<text class="mn"><tspan x="32" y="-7">77</tspan><tspan x="272" y="-7">78</tspan><tspan x="512" y="-7">79</tspan><tspan x="752" y="-7">80</tspan></text>
<use href="#q" x="32" y="-33"/><text class="tp" x="36" y="-33">=147</text>
<use href="#q" x="272" y="-33"/><text class="tp" x="276" y="-33">=149</text>
<use href="#q" x="512" y="-33"/><text class="tp" x="516" y="-33">=151</text>
<use href="#q" x="752" y="-33"/><text class="tp" x="756" y="-33">=152</text>
<text class="n1"><tspan x="270.5" y="76">0</tspan><tspan x="510.5" y="76">0</tspan><tspan x="750.5" y="76">0</tspan><tspan x="990.5" y="76">0</tspan></text>
<text class="n2"><tspan x="270.5" y="89">90677</tspan><tspan x="510.5" y="89">90677</tspan><tspan x="750.5" y="89">90677</tspan><tspan x="990.5" y="89">90677</tspan></text>
<text class="n3"><tspan x="270.5" y="102">0.00%</tspan><tspan x="510.5" y="102">0.00%</tspan><tspan x="750.5" y="102">0.00%</tspan><tspan x="990.5" y="102">0.00%</tspan></text>
</g>

<g id="row21" transform="translate(0,3277)">
<use href="#grid"/>
<text class="mn"><tspan x="32" y="-7">81</tspan><tspan x="272" y="-7">82</tspan><tspan x="512" y="-7">83</tspan><tspan x="752" y="-7">84</tspan></text>
<use href="#q" x="32" y="-33"/><text class="tp" x="36" y="-33">=150</text>
<use href="#q" x="272" y="-33"/><text class="tp" x="276" y="-33">=151</text>
<use href="#q" x="512" y="-33"/><text class="tp" x="516" y="-33">=152</text>
<use href="#q" x="752" y="-33"/><text class="tp" x="756" y="-33">=150</text>
<use href="#q" x="872" y="-33"/><text class="tp" x="876" y="-33">=147</text>
<circle class="b" cx="872" cy="45" r="5"/><circle class="b" cx="902" cy="45" r="5"/><circle class="b" cx="932" cy="45" r="5"/>
<text class="n1"><tspan x="270.5" y="76">0</tspan><tspan x="510.5" y="76">0</tspan><tspan x="750.5" y="76">0</tspan><tspan x="990.5" y="76">108</tspan></text>
<text class="n2"><tspan x="270.5" y="89">90677</tspan><tspan x="510.5" y="89">90677</tspan><tspan x="750.5" y="89">90677</tspan><tspan x="990.5" y="89">91325</tspan></text>
<text class="n3"><tspan x="270.5" y="102">0.00%</tspan><tspan x="510.5" y="102">0.00%</tspan><tspan x="750.5" y="102">0.00%</tspan><tspan x="990.5" y="102">0.00%</tspan></text>
</g>

<g id="row22" transform="translate(0,3430)">
<use href="#grid"/>
<text class="mn"><tspan x="32" y="-7">85</tspan><tspan x="272" y="-7">86</tspan><tspan x="512" y="-7">87</tspan><tspan x="752" y="-7">88</tspan></text>
<use href="#q" x="32" y="-33"/><text class="tp" x="36" y="-33">=146</text>
<use href="#q" x="272" y="-33"/><text class="tp" x="276" y="-33">=145</text>
<use href="#q" x="512" y="-33"/><text class="tp" x="516" y="-33">=144</text>
<use href="#q" x="752" y="-33"/><text class="tp" x="756" y="-33">=146</text>
<path class="sb" d="M32 45H92"/><path class="sy" d="M272 30H332"/><path class="sr" d="M512 15H572M752 15H812"/><path class="so" d="M692 60H737"/>
<circle class="b" cx="32" cy="45" r="5"/><circle class="b" cx="152" cy="45" r="5"/><circle class="o" cx="182" cy="60" r="5"/><circle class="b" cx="212" cy="45" r="5"/>
<use class="k y" href="#st" x="272" y="30"/><use class="k y" href="#st" x="392" y="30"/><use class="k y" href="#st" x="422" y="30"/><use class="k y" href="#st" x="452" y="30"/>
<circle class="r" cx="512" cy="15" r="5"/><circle class="o" cx="632" cy="60" r="5"/><circle class="o" cx="662" cy="60" r="5"/><circle class="o" cx="692" cy="60" r="5"/><circle class="r" cx="752" cy="15" r="5"/><circle class="b" cx="872" cy="45" r="5"/><circle class="b" cx="902" cy="45" r="5"/><circle class="b" cx="932" cy="45" r="5"/>
<rect class="ps" x="272" y="-.75" width="180" height="61.5"/>
<text class="n1"><tspan x="270.5" y="76">169</tspan><tspan x="510.5" y="76">169</tspan><tspan x="750.5" y="76">188</tspan><tspan x="990.5" y="76">169</tspan></text>
<text class="n2"><tspan x="270.5" y="89">92339</tspan><tspan x="510.5" y="89">93353</tspan><tspan x="750.5" y="89">94481</tspan><tspan x="990.5" y="89">95495</tspan></text>
<text class="n3"><tspan x="270.5" y="102">0.00%</tspan><tspan x="510.5" y="102">25.00%</tspan><tspan x="750.5" y="102">25.00%</tspan><tspan x="990.5" y="102">25.00%</tspan></text>
</g>

<g id="row23" transform="translate(0,3583)">
<use href="#grid"/>
<text class="mn"><tspan x="32" y="-7">89</tspan><tspan x="272" y="-7">90</tspan><tspan x="512" y="-7">91</tspan><tspan x="752" y="-7">92</tspan></text>
<use href="#q" x="32" y="-33"/><text class="tp" x="36" y="-33">=145</text>
<use href="#q" x="512" y="-33"/><text class="tp" x="516" y="-33">=146</text>
<use href="#q" x="752" y="-33"/><text class="tp" x="756" y="-33">=145</text>
<path class="sb" d="M32 45H92"/><path class="sy" d="M272 30H332M452 30H497"/><path class="sr" d="M512 15H572M752 15H812"/><path class="so" d="M692 60H737"/>
<circle class="b" cx="32" cy="45" r="5"/><circle class="b" cx="152" cy="45" r="5"/><circle class="o" cx="182" cy="60" r="5"/><circle class="b" cx="212" cy="45" r="5"/><circle class="y" cx="272" cy="30" r="5"/><circle class="r" cx="362" cy="15" r="5"/><circle class="y" cx="392" cy="30" r="5"/><circle class="y" cx="422" cy="30" r="5"/><circle class="y" cx="452" cy="30" r="5"/><circle class="r" cx="512" cy="15" r="5"/><circle class="g" cx="602" cy="0" r="5"/><circle class="o" cx="632" cy="60" r="5"/><circle class="o" cx="662" cy="60" r="5"/><circle class="o" cx="692" cy="60" r="5"/><circle class="r" cx="752" cy="15" r="5"/><circle class="b" cx="872" cy="45" r="5"/><circle class="b" cx="902" cy="45" r="5"/><circle class="b" cx="932" cy="45" r="5"/>
<text class="n1"><tspan x="270.5" y="76">169</tspan><tspan x="510.5" y="76">224</tspan><tspan x="750.5" y="76">224</tspan><tspan x="990.5" y="76">169</tspan></text>
<text class="n2"><tspan x="270.5" y="89">96509</tspan><tspan x="510.5" y="89">97853</tspan><tspan x="750.5" y="89">99197</tspan><tspan x="990.5" y="89">100211</tspan></text>
<text class="n3"><tspan x="270.5" y="102">25.00%</tspan><tspan x="510.5" y="102">25.00%</tspan><tspan x="750.5" y="102">25.00%</tspan><tspan x="990.5" y="102">25.00%</tspan></text>
</g>

<g id="row24" transform="translate(0,3736)">
<use href="#grid"/>
<text class="mn"><tspan x="32" y="-7">93</tspan><tspan x="272" y="-7">94</tspan><tspan x="512" y="-7">95</tspan><tspan x="752" y="-7">96</tspan></text>
<use href="#q" x="32" y="-33"/><text class="tp" x="36" y="-33">=148</text>
<use href="#q" x="272" y="-33"/><text class="tp" x="276" y="-33">=146</text>
<path class="sb" d="M32 45H92"/><path class="sy" d="M272 30H332"/><path class="sr" d="M512 15H572M752 15H812"/><path class="so" d="M692 60H737"/>
<circle class="b" cx="32" cy="45" r="5"/><circle class="b" cx="152" cy="45" r="5"/><circle class="o" cx="182" cy="60" r="5"/><circle class="b" cx="212" cy="45" r="5"/><circle class="y" cx="272" cy="30" r="5"/><circle class="y" cx="392" cy="30" r="5"/><circle class="y" cx="422" cy="30" r="5"/><circle class="y" cx="452" cy="30" r="5"/><circle class="r" cx="512" cy="15" r="5"/><circle class="o" cx="632" cy="60" r="5"/><circle class="o" cx="662" cy="60" r="5"/><circle class="o" cx="692" cy="60" r="5"/><circle class="r" cx="752" cy="15" r="5"/><circle class="b" cx="872" cy="45" r="5"/><circle class="b" cx="902" cy="45" r="5"/><circle class="b" cx="932" cy="45" r="5"/>
<text class="n1"><tspan x="270.5" y="76">169</tspan><tspan x="510.5" y="76">169</tspan><tspan x="750.5" y="76">188</tspan><tspan x="990.5" y="76">169</tspan></text>
<text class="n2"><tspan x="270.5" y="89">101225</tspan><tspan x="510.5" y="89">102239</tspan><tspan x="750.5" y="89">103367</tspan><tspan x="990.5" y="89">104381</tspan></text>
<text class="n3"><tspan x="270.5" y="102">25.00%</tspan><tspan x="510.5" y="102">25.00%</tspan><tspan x="750.5" y="102">25.00%</tspan><tspan x="990.5" y="102">25.00%</tspan></text>
</g>

<g id="row25" transform="translate(0,3889)">
<use href="#grid"/>
<text class="mn"><tspan x="32" y="-7">97</tspan><tspan x="272" y="-7">98</tspan><tspan x="512" y="-7">99</tspan><tspan x="752" y="-7">100</tspan></text>
<use href="#q" x="32" y="-33"/><text class="tp" x="36" y="-33">=147</text>
<use href="#q" x="272" y="-33"/><text class="tp" x="276" y="-33">=148</text>
<use href="#q" x="512" y="-33"/><text class="tp" x="516" y="-33">=149</text>
<use href="#q" x="752" y="-33"/><text class="tp" x="756" y="-33">=150</text>
<path class="sb" d="M32 45H92"/><path class="sy" d="M272 30H332M452 30H497M692 30H737"/><path class="sr" d="M512 15H572M752 15H812"/><path class="so" d="M932 60H977"/>
<circle class="b" cx="32" cy="45" r="5"/><circle class="b" cx="152" cy="45" r="5"/><circle class="o" cx="182" cy="60" r="5"/><circle class="b" cx="212" cy="45" r="5"/><circle class="y" cx="272" cy="30" r="5"/><circle class="g" cx="362" cy="0" r="5"/><circle class="y" cx="392" cy="30" r="5"/><circle class="y" cx="422" cy="30" r="5"/><circle class="y" cx="452" cy="30" r="5"/><circle class="r" cx="512" cy="15" r="5"/><circle class="g" cx="602" cy="0" r="5"/><circle class="y" cx="632" cy="30" r="5"/><circle class="y" cx="662" cy="30" r="5"/><circle class="y" cx="692" cy="30" r="5"/><circle class="r" cx="752" cy="15" r="5"/><circle class="g" cx="842" cy="0" r="5"/><circle class="o" cx="872" cy="60" r="5"/><circle class="o" cx="902" cy="60" r="5"/><circle class="o" cx="932" cy="60" r="5"/>
<rect class="pb" x="272" y="-.75" width="480" height="61.5"/>
<text class="n1"><tspan x="270.5" y="76">169</tspan><tspan x="510.5" y="76">224</tspan><tspan x="750.5" y="76">224</tspan><tspan x="990.5" y="76">224</tspan></text>
<text class="n2"><tspan x="270.5" y="89">105395</tspan><tspan x="510.5" y="89">108083</tspan><tspan x="750.5" y="89">110771</tspan><tspan x="990.5" y="89">112337</tspan></text>
<text class="n3"><tspan x="270.5" y="102">25.00%</tspan><tspan x="510.5" y="102">12.60%</tspan><tspan x="750.5" y="102">0.10%</tspan><tspan x="990.5" y="102">0.00%</tspan></text>
</g>

<g id="row26" transform="translate(0,4042)">
<use href="#grid1"/>
<text class="mn" x="32" y="-7">101</text>
<use href="#q" x="32" y="-33"/><text class="tp" x="36" y="-33">=144</text>
<path class="sr" d="M32 15H122"/>
<circle class="r" cx="32" cy="15" r="5"/>
<text class="n1" x="270.5" y="76">74</text>
<text class="n2" x="270.5" y="89">112781</text>
<text class="n3" x="270.5" y="102">0.00%</text>
</g>
</g>
</svg>
